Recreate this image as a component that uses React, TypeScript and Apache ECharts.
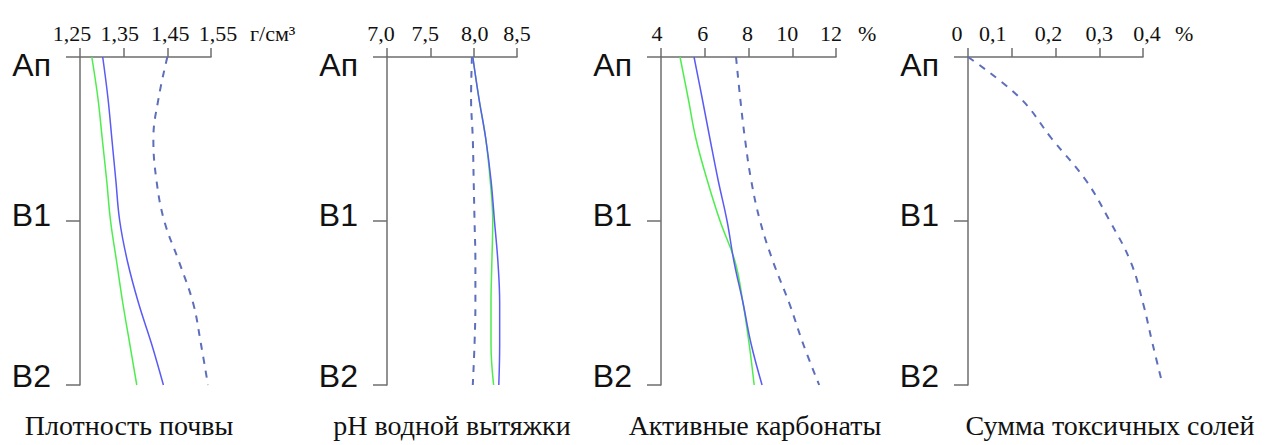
import React, { useEffect, useRef } from "react";
import * as echarts from "echarts";

// depth positions: 0 = Ап, 1 = В1, 2 = В2
const depth = [0, 0.25, 0.5, 0.75, 1, 1.25, 1.5, 1.75, 2];
const horizons = ["Ап", "В1", "В2"];

const densityGreen = [1.277, 1.291, 1.301, 1.311, 1.32, 1.334, 1.348, 1.364, 1.38];
const densityBlue = [1.302, 1.314, 1.323, 1.332, 1.341, 1.359, 1.384, 1.414, 1.441];
const densityDashed = [1.45, 1.43, 1.418, 1.425, 1.443, 1.477, 1.509, 1.527, 1.543];

const phGreen = [7.99, 8.06, 8.14, 8.19, 8.22, 8.21, 8.2, 8.2, 8.23];
const phBlue = [7.99, 8.06, 8.14, 8.2, 8.24, 8.28, 8.3, 8.3, 8.29];
const phDashed = [7.98, 7.97, 7.99, 8.0, 8.01, 8.02, 8.02, 8.01, 7.99];

const carbGreen = [4.87, 5.24, 5.6, 6.11, 6.7, 7.39, 7.75, 8.03, 8.26];
const carbBlue = [5.51, 5.88, 6.24, 6.61, 7.02, 7.34, 7.75, 8.12, 8.62];
const carbDashed = [7.43, 7.62, 7.84, 8.12, 8.53, 9.13, 9.86, 10.5, 11.23];

const saltsDashed = [0, 0.119, 0.192, 0.269, 0.324, 0.372, 0.4, 0.422, 0.445];

const densityTicks = ["1,25", "1,35", "1,45", "1,55"];
const phTicks = ["7,0", "7,5", "8,0", "8,5"];
const carbTicks = ["4", "6", "8", "10", "12"];
const saltsTicks = ["0", "0,1", "0,2", "0,3", "0,4"];

const titles = ["Плотность почвы", "pH водной вытяжки", "Активные карбонаты", "Сумма токсичных солей"];
const units = ["г/см³", "", "%", "%"];

const GREEN = "#4ded4d";
const BLUE = "#5a5af5";
const DASH = "#5d6fbb";
const AXIS = "#6e6e6e";

const panels = [
  { left: 80, width: 131, min: 1.25, max: 1.55, interval: 0.1, ticks: densityTicks, offs: [-8, -4, 3, 7],
    series: [
      { data: densityGreen, color: GREEN, dashed: false },
      { data: densityBlue, color: BLUE, dashed: false },
      { data: densityDashed, color: DASH, dashed: true },
    ], title: 0, titleX: 129, unitX: 250, overflowMax: 0 },
  { left: 387, width: 130, min: 7.0, max: 8.5, interval: 0.5, ticks: phTicks, offs: [-6, -5, 1, 0],
    series: [
      { data: phDashed, color: DASH, dashed: true },
      { data: phGreen, color: GREEN, dashed: false },
      { data: phBlue, color: BLUE, dashed: false },
    ], title: 1, titleX: 452, unitX: 0, overflowMax: 0 },
  { left: 661, width: 175, min: 4, max: 12, interval: 2, ticks: carbTicks, offs: [-4, -2, -1, -5, -5],
    series: [
      { data: carbGreen, color: GREEN, dashed: false },
      { data: carbBlue, color: BLUE, dashed: false },
      { data: carbDashed, color: DASH, dashed: true },
    ], title: 2, titleX: 755, unitX: 858, overflowMax: 0 },
  { left: 968, width: 175, min: 0, max: 0.4, interval: 0.1, ticks: saltsTicks, offs: [-11, -19, -7, 0, 4],
    series: [{ data: saltsDashed, color: DASH, dashed: true }], title: 3, titleX: 1110, unitX: 1175,
    overflowMax: 0.5 },
];

const serif = "Liberation Serif";
const sans = "Liberation Sans";
const TOP = 57;
const HEIGHT = 328;

export default function App() {
  const ref = useRef<HTMLDivElement>(null);
  useEffect(() => {
    if (!ref.current) return;
    const chart = echarts.init(ref.current, undefined, { renderer: "svg" });

    const grid: any[] = [];
    const xAxis: any[] = [];
    const yAxis: any[] = [];
    const series: any[] = [];
    const graphic: any[] = [];

    const lineSeries = (s: any, idx: number) => ({
      type: "line",
      xAxisIndex: idx,
      yAxisIndex: idx,
      data: s.data.map((v: number, k: number) => [v, depth[k]]),
      smooth: 0.4,
      showSymbol: false,
      clip: false,
      lineStyle: {
        color: s.color,
        width: s.dashed ? 2 : 1.5,
        type: s.dashed ? [7, 7] : "solid",
      },
      silent: true,
    });

    panels.forEach((p, gi) => {
      grid.push({ left: p.left, top: TOP, width: p.width, height: HEIGHT });
      const rich: any = {};
      p.offs.forEach((dx, i) => {
        rich["o" + i] = {
          fontFamily: serif,
          fontSize: 22,
          color: "#111",
          padding: dx < 0 ? [0, -2 * dx, 0, 0] : [0, 0, 0, 2 * dx],
        };
      });
      xAxis.push({
        type: "value",
        gridIndex: gi,
        position: "top",
        min: p.min,
        max: p.max,
        interval: p.interval,
        splitLine: { show: false },
        axisLine: { show: true, lineStyle: { color: AXIS, width: 1.5 } },
        axisTick: { show: true, length: 9, inside: false, lineStyle: { color: AXIS, width: 1.5 } },
        axisLabel: {
          margin: 13,
          fontFamily: serif,
          fontSize: 22,
          color: "#111",
          formatter: (_v: number, i: number) => `{o${i}|${p.ticks[i] ?? ""}}`,
          rich,
        },
      });
      yAxis.push({
        type: "value",
        gridIndex: gi,
        inverse: true,
        min: 0,
        max: 2,
        interval: 1,
        splitLine: { show: false },
        axisLine: { show: true, lineStyle: { color: AXIS, width: 1.5 } },
        axisTick: { show: true, length: 14, inside: false, lineStyle: { color: AXIS, width: 1.5 } },
        axisLabel: {
          margin: 29,
          fontFamily: sans,
          fontSize: 32,
          color: "#111",
          formatter: (v: number) => {
            const i = Math.round(v);
            return `{h${i}|${horizons[i]}}`;
          },
          rich: {
            h0: { fontFamily: sans, fontSize: 32, color: "#111", padding: [16, 0, 0, 0] },
            h1: { fontFamily: sans, fontSize: 32, color: "#111", padding: [0, 0, 13, 0] },
            h2: { fontFamily: sans, fontSize: 32, color: "#111", padding: [0, 0, 18, 0] },
          },
        },
      });
      graphic.push({
        type: "text",
        x: p.titleX,
        y: 411,
        style: {
          text: titles[p.title],
          align: "center",
          verticalAlign: "top",
          fontFamily: serif,
          fontSize: 28,
          fill: "#111",
        },
      });
      if (units[gi]) {
        graphic.push({
          type: "text",
          x: p.unitX,
          y: 44,
          style: {
            text: units[gi],
            align: "left",
            verticalAlign: "bottom",
            fontFamily: serif,
            fontSize: 22,
            fill: "#111",
          },
        });
      }
    });

    // series; a panel whose curve runs past its last tick gets an invisible,
    // same-scale overlay grid so that the curve is not cut at the axis end
    panels.forEach((p, gi) => {
      if (p.overflowMax) {
        const idx = grid.length;
        const w = (p.width * (p.overflowMax - p.min)) / (p.max - p.min);
        grid.push({ left: p.left, top: TOP, width: w, height: HEIGHT });
        xAxis.push({ type: "value", gridIndex: idx, position: "top", min: p.min, max: p.overflowMax, show: false });
        yAxis.push({ type: "value", gridIndex: idx, inverse: true, min: 0, max: 2, show: false });
        p.series.forEach((s) => series.push(lineSeries(s, idx)));
      } else {
        p.series.forEach((s) => series.push(lineSeries(s, gi)));
      }
    });

    chart.setOption({
      animation: false,
      backgroundColor: "#ffffff",
      grid,
      xAxis,
      yAxis,
      series,
      graphic,
    });
    return () => chart.dispose();
  }, []);

  return (
    <div
      ref={ref}
      style={{ position: "absolute", left: 0, top: 0, width: 1270, height: 445 }}
    />
  );
}
